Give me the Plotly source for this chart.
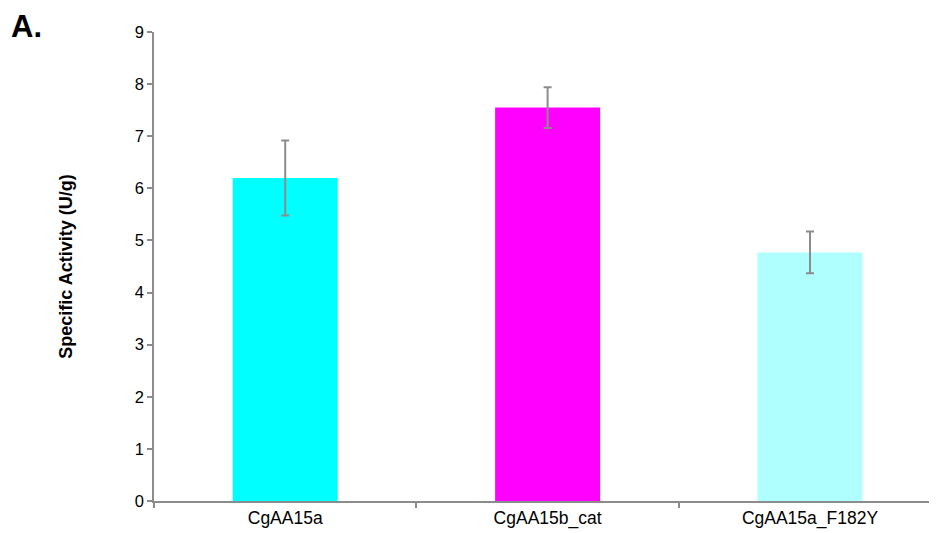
import plotly.graph_objects as go

categories = ["CgAA15a", "CgAA15b_cat", "CgAA15a_F182Y"]
values = [6.2, 7.55, 4.77]
errors = [0.72, 0.39, 0.40]
colors = ["#00FFFF", "#FF00FF", "#AFFFFF"]
y_ticks = [0, 1, 2, 3, 4, 5, 6, 7, 8, 9]

fig = go.Figure()
fig.add_trace(go.Bar(
    x=categories, y=values,
    marker=dict(color=colors, line=dict(width=0)),
    width=0.4,
    error_y=dict(type="data", array=errors, visible=True,
                 color="#8C8C8C", thickness=2, width=4),
))

# page body has an 8px margin, so the figure is sized to fit the window
W, H = 929, 525
L, R, T, B = 146, 0, 24, 32
fig.update_layout(
    width=W, height=H,
    margin=dict(l=L, r=R, t=T, b=B),
    plot_bgcolor="white", paper_bgcolor="white",
    font=dict(family="Liberation Sans, Arial, sans-serif", color="black"),
    showlegend=False,
    xaxis=dict(
        type="category", range=[-0.5, 2.484],
        showline=True, linecolor="#8C8C8C", linewidth=1.5,
        ticks="outside", tickson="boundaries", ticklen=5, tickcolor="#8C8C8C",
        tickwidth=1.5, tickfont=dict(size=17.5), showgrid=False,
    ),
    yaxis=dict(
        range=[0, 9], tickvals=y_ticks,
        showline=True, linecolor="#8C8C8C", linewidth=1.5,
        ticks="outside", ticklen=5, tickcolor="#8C8C8C", tickwidth=1.5,
        tickfont=dict(size=16.5), showgrid=False, zeroline=False,
        title=dict(text="<b>Specific Activity (U/g)</b>", font=dict(size=18), standoff=57),
    ),
    annotations=[dict(
        text="<b>A.</b>", xref="paper", yref="paper",
        x=-0.184, y=1.051, xanchor="left", yanchor="top", borderpad=0,
        showarrow=False, font=dict(size=31),
    )],
)

fig.write_html("out.html")
